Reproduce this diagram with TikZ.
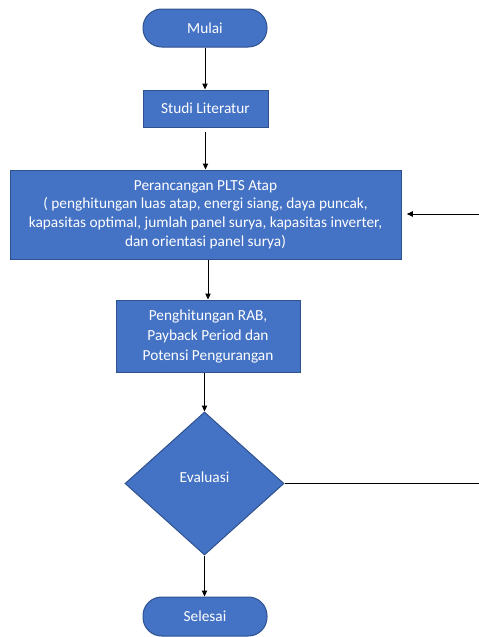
\documentclass[tikz,border=0pt]{standalone}
\usepackage{fontspec}
\setmainfont{Carlito}
\usetikzlibrary{shapes.geometric,arrows.meta}
\definecolor{boxfill}{HTML}{4472C4}
\definecolor{boxline}{HTML}{2F528F}
\begin{document}
\begin{tikzpicture}[x=0.75pt,y=-0.75pt,
  base/.style={fill=boxfill,draw=boxline,line width=0.75pt,text=white,
    font=\fontsize{11.5}{14}\selectfont,align=center,inner sep=0pt},
  process/.style={base,rectangle},
  terminal/.style={base,rectangle,rounded corners=14pt},
  decision/.style={base,diamond,aspect=1.11},
  conn/.style={draw=black,line width=0.75pt,-{Triangle[length=4.5pt,width=4pt]}},
  plainline/.style={draw=black,line width=0.75pt}]
\useasboundingbox (0,0) rectangle (479,637);
\node[terminal,minimum width=93pt,minimum height=28.5pt] (mulai) at (205,28) {Mulai};
\node[process,minimum width=93.75pt,minimum height=27.75pt] (studi) at (205.5,108.5) {Studi Literatur};
\node[process,minimum width=293.25pt,minimum height=66.75pt] (plts) at (205.5,214.5)
  {Perancangan PLTS Atap\\( penghitungan luas atap, energi siang, daya puncak,\\kapasitas optimal, jumlah panel surya, kapasitas inverter,\\dan orientasi panel surya)};
\node[process,minimum width=138pt,minimum height=54pt,font=\fontsize{11.5}{15}\selectfont] (rab) at (208,336)
  {Penghitungan RAB,\\Payback Period dan\\Potensi Pengurangan};
\node[decision,minimum width=119.25pt,minimum height=107.25pt,text height=8pt,text depth=10pt] (eval) at (204.5,483.5) {Evaluasi};
\node[terminal,minimum width=93pt,minimum height=29.25pt] (selesai) at (205,616.5) {Selesai};
\coordinate (fbin) at (479,214);
\coordinate (fbout) at (479,483.5);
\draw[conn] (mulai.south) -- (mulai.south |- studi.north);
\draw[conn,shorten <=3pt] (studi.south) -- (studi.south |- plts.north);
\draw[conn] (rab.north |- plts.south) -- (rab.north);
\draw[conn] (eval.north |- rab.south) -- (eval.north);
\draw[conn] (eval.south) -- (eval.south |- selesai.north);
\draw[plainline] (eval.east) -- (fbout);
\draw[conn,shorten >=4pt] (fbin) -- (plts.east |- fbin);
\end{tikzpicture}
\end{document}
